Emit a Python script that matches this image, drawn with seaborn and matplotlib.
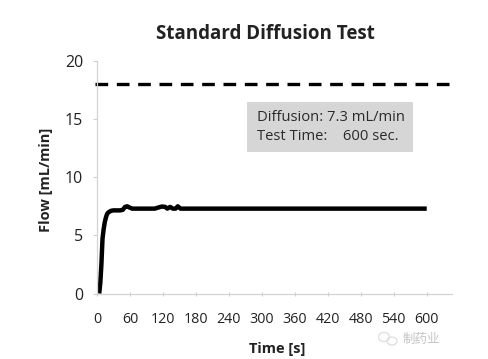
import matplotlib
matplotlib.use("Agg")
import matplotlib.pyplot as plt
from matplotlib.patches import Ellipse
import pandas as pd
import seaborn as sns

time_s = [4, 6, 8, 9, 10, 12, 14, 16, 18, 20, 23, 26, 30, 36, 42, 47, 51, 55, 59, 64, 75, 90, 105, 112, 118, 124, 128, 133, 138, 143, 147, 152, 165, 200, 300, 400, 500, 600]
flow = [0, 0.9, 2.5, 3.6, 4.7, 5.5, 6.1, 6.5, 6.8, 6.95, 7.05, 7.12, 7.15, 7.15, 7.15, 7.2, 7.45, 7.5, 7.4, 7.3, 7.3, 7.3, 7.3, 7.4, 7.48, 7.45, 7.3, 7.45, 7.3, 7.3, 7.5, 7.3, 7.3, 7.3, 7.3, 7.3, 7.3, 7.3]
limit_time = [-3, 640]
limit_flow = [18, 18]
x_ticks = list(range(0, 601, 60))
y_ticks = [0, 5, 10, 15, 20]
title = "Standard Diffusion Test"
x_label = "Time [s]"
y_label = "Flow [mL/min]"
info_lines = "Diffusion: 7.3 mL/min\nTest Time:    600 sec."
watermark = "制药业"

sns.set_theme(style="white")
plt.rcParams["font.family"] = ["Open Sans", "Noto Sans CJK SC", "DejaVu Sans"]

fig = plt.figure(figsize=(4.89, 3.59), dpi=100, facecolor="white")
ax = fig.add_axes([97 / 489, 1 - 293.5 / 359, 355 / 489, 232.5 / 359])

curve = pd.DataFrame({"t": time_s, "f": flow})
limit = pd.DataFrame({"t": limit_time, "f": limit_flow})
sns.lineplot(data=curve, x="t", y="f", ax=ax, color="black", linewidth=3.2,
             errorbar=None, sort=False, solid_capstyle="butt")
sns.lineplot(data=limit, x="t", y="f", ax=ax, color="black", linewidth=2.4,
             errorbar=None, legend=False)
dash_line = ax.lines[-1]
dash_line.set_linestyle((0, (3.8, 2.6)))
dash_line.set_clip_on(False)

ax.set_xlim(0, 646)
ax.set_ylim(0, 20)
ax.set_xticks(x_ticks)
ax.set_yticks(y_ticks)
ax.tick_params(axis="x", length=3, width=0.8, color="#cfcfcf", labelsize=10.3,
               labelcolor="#222222", pad=12, bottom=True, direction="inout")
ax.tick_params(axis="y", length=3, width=0.8, color="#cfcfcf", labelsize=11.5,
               labelcolor="#222222", pad=7, left=True)
for side in ("top", "right"):
    ax.spines[side].set_visible(False)
for side in ("left", "bottom"):
    ax.spines[side].set_color("#d4d4d4")
    ax.spines[side].set_linewidth(0.9)

ax.set_xlabel("")
ax.set_ylabel("")
fig.text(277 / 489, 1 - 349 / 359, x_label, ha="center", va="center",
         fontsize=10.5, fontweight="bold", color="#222222")
fig.text(46 / 489, 1 - 180 / 359, y_label, ha="center", va="center",
         fontsize=10.5, fontweight="bold", color="#222222", rotation=90)
fig.text(265 / 489, 1 - 34 / 359, title, ha="center", va="center",
         fontsize=13.5, fontweight="bold", color="#222222")

fig.patches.append(plt.Rectangle((247 / 489, 1 - 152 / 359), 166 / 489, 50 / 359,
                                 transform=fig.transFigure, facecolor="#d6d6d6",
                                 edgecolor="none", zorder=3))
fig.text(257 / 489, 1 - 127 / 359, info_lines, ha="left", va="center",
         fontsize=10.6, color="#2a2a2a", linespacing=1.3, zorder=4)
fig.text(421 / 489, 1 - 339 / 359, watermark, ha="center", va="center",
         fontsize=9, color="#c4c4c4")
for cx, cy, w, h in [(384, 337, 11, 9), (392, 341, 10, 8)]:
    fig.patches.append(Ellipse((cx / 489, 1 - cy / 359), w / 489, h / 359,
                               transform=fig.transFigure, facecolor="none",
                               edgecolor="#dedede", linewidth=0.9))

fig.savefig("out.png", dpi=100)
